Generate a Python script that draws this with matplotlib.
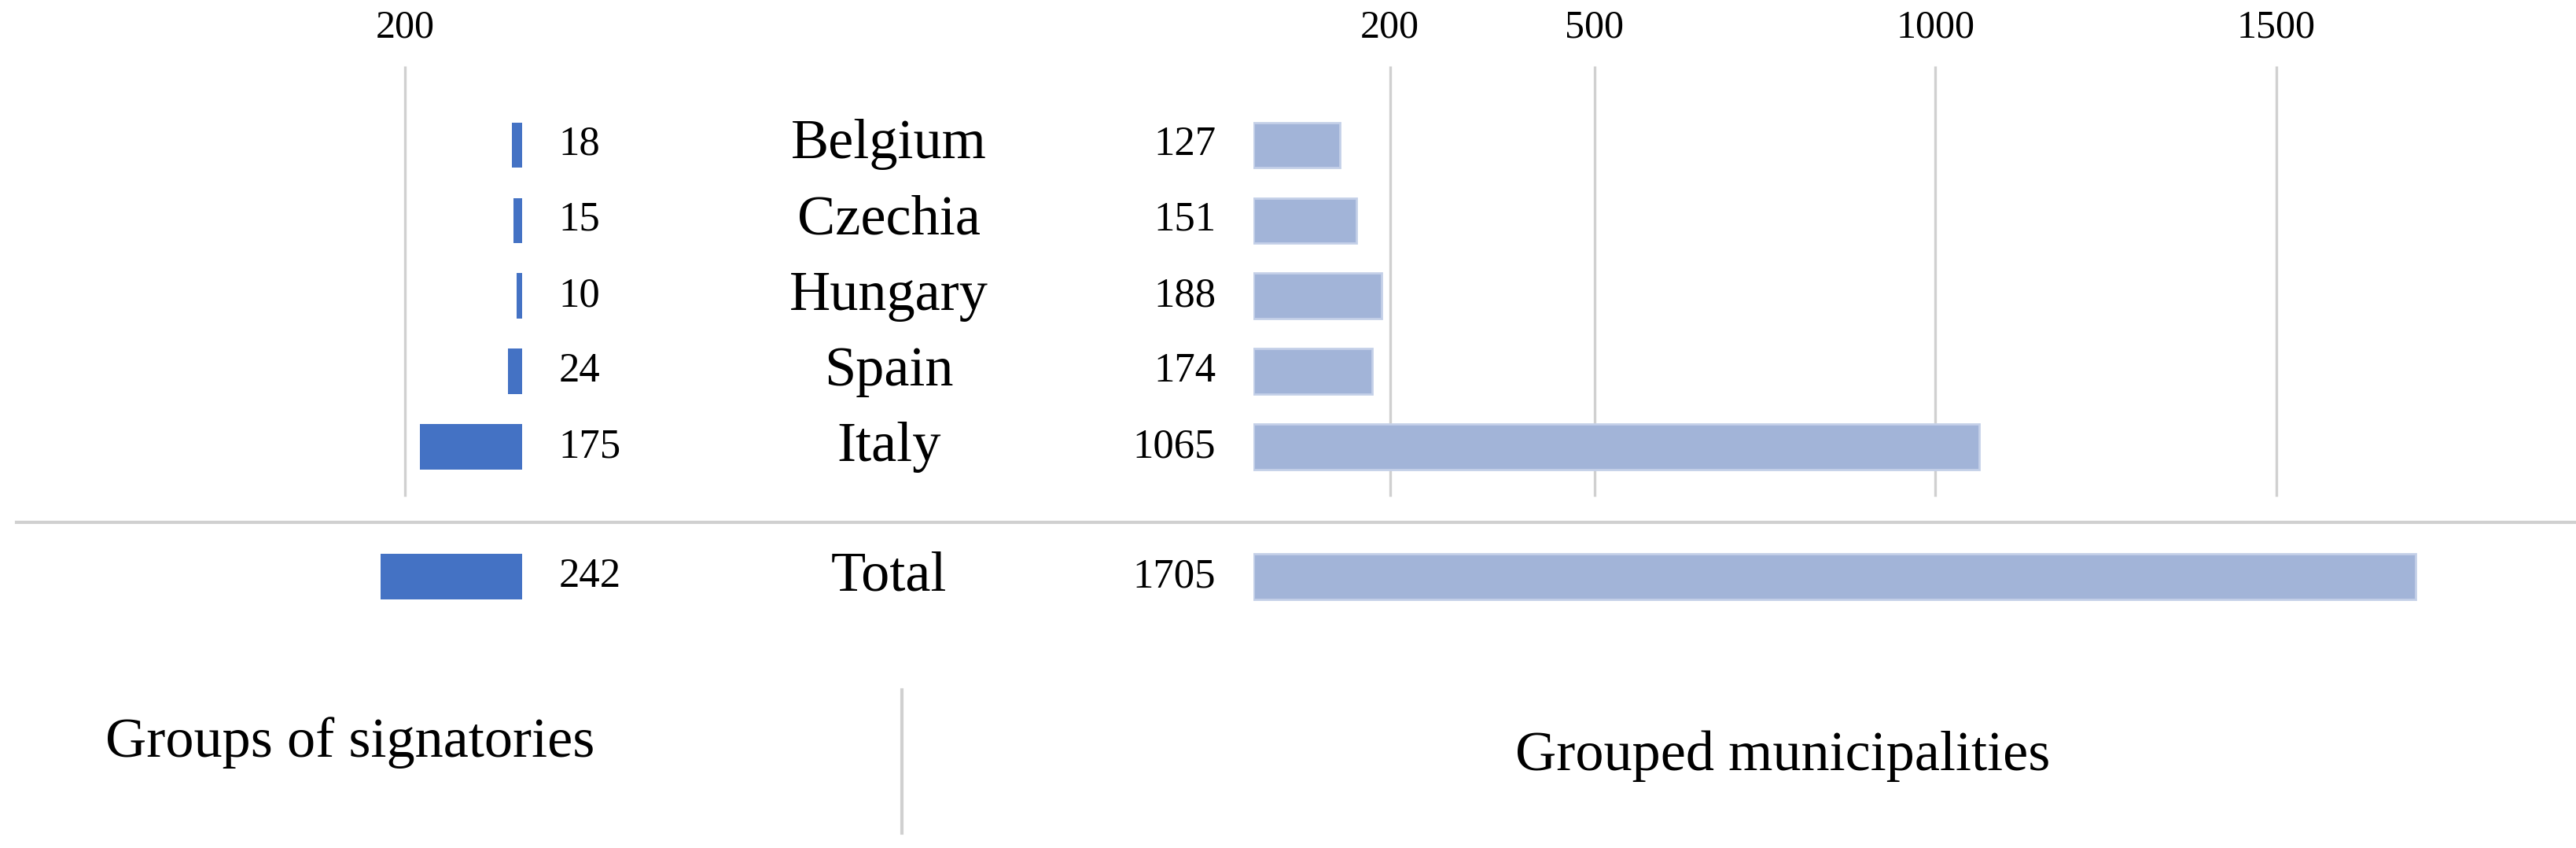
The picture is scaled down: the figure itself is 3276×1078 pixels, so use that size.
import matplotlib.pyplot as plt

countries = ["Belgium", "Czechia", "Hungary", "Spain", "Italy"]
groups = [18, 15, 10, 24, 175]
municipalities = [127, 151, 188, 174, 1065]
total_label = "Total"
total_groups = 242
total_municipalities = 1705
right_ticks = [200, 500, 1000, 1500]
left_ticks = [200]

W, H = 1568.0, 516.0  # layout measured in reference pixels


def fx(x):
    return x / W


def fy(y):
    return 1 - y / H


plt.rcParams['font.family'] = ['Liberation Serif', 'DejaVu Serif']
fig = plt.figure(figsize=(16.38, 5.39), dpi=200)

rows = list(range(len(countries)))
total_row = 4 + 79 / 46
ytop, ybot = 40, 419
ylim = (7.2, -1.05)
grid_c = '#d0d0d0'

# left panel: groups of signatories (bars grow leftwards)
axl = fig.add_axes([fx(200), fy(ybot), fx(118), (ybot - ytop) / H])
axl.set_xlim(330, 0)
axl.set_ylim(*ylim)
axl.barh(rows, groups, height=0.6, color='#4472c4')
axl.barh([total_row], [total_groups], height=0.6, color='#4472c4')
for t in left_ticks:
    axl.vlines(t, -1.05, 4.65, color=grid_c, lw=1.2, zorder=0)
axl.xaxis.tick_top()
axl.set_xticks(left_ticks)
axl.tick_params(axis='x', length=0, labelsize=18, pad=9)
axl.set_yticks([])
for s in axl.spines.values():
    s.set_visible(False)

# right panel: grouped municipalities
axr = fig.add_axes([fx(763), fy(ybot), fx(737), (ybot - ytop) / H])
axr.set_xlim(0, 1776)
axr.set_ylim(*ylim)
axr.barh(rows, municipalities, height=0.6, color='#a2b4d8', edgecolor='#c4d0e8', lw=1)
axr.barh([total_row], [total_municipalities], height=0.6, color='#a2b4d8', edgecolor='#c4d0e8', lw=1)
for t in right_ticks:
    axr.vlines(t, -1.05, 4.65, color=grid_c, lw=1.2, zorder=0)
axr.xaxis.tick_top()
axr.set_xticks(right_ticks)
axr.tick_params(axis='x', length=0, labelsize=18, pad=9)
axr.set_yticks([])
for s in axr.spines.values():
    s.set_visible(False)

# labels in the middle
for r, c, g, m in zip(rows + [total_row], countries + [total_label],
                      groups + [total_groups], municipalities + [total_municipalities]):
    y = 88 + r * 46
    fig.text(fx(541), fy(y), c, ha='center', va='center', fontsize=26)
    fig.text(fx(340), fy(y), str(g), ha='left', va='center', fontsize=19)
    fig.text(fx(740), fy(y), str(m), ha='right', va='center', fontsize=19)

# separators and captions
fig.add_artist(plt.Line2D([fx(10), 1], [fy(318), fy(318)], color=grid_c, lw=1.5))
fig.add_artist(plt.Line2D([fx(549), fx(549)], [fy(420), fy(507)], color=grid_c, lw=1.5))
fig.text(fx(213), fy(452), "Groups of signatories", ha='center', va='center', fontsize=26)
fig.text(fx(1085), fy(460), "Grouped municipalities", ha='center', va='center', fontsize=26)

fig.savefig('out.png', dpi=200)
